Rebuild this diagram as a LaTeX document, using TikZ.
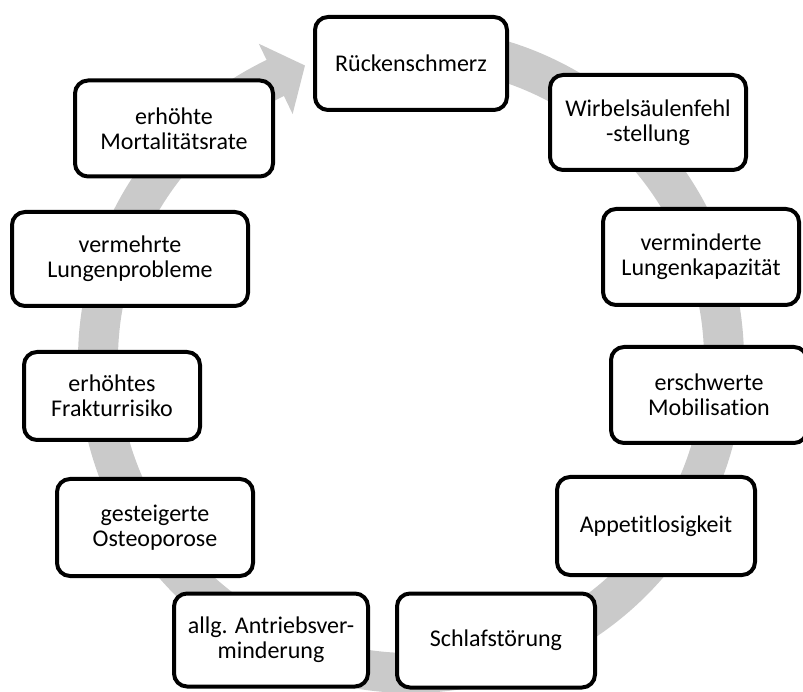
\documentclass[tikz,border=0pt]{standalone}
\usepackage{fontspec}
\setmainfont{Carlito}[Ligatures={NoCommon}]
\begin{document}
\begin{tikzpicture}[x=1pt,y=1pt,
  cbox/.style={draw=black, fill=white, line width=4pt, rounded corners=13pt,
    inner sep=0pt, align=center, font=\fontsize{24}{25}\selectfont},
  bandfill/.style={fill={rgb,255:red,202;green,202;blue,202}}]
\useasboundingbox (0,0) rectangle (803,691);
\clip (0,0) rectangle (803,691);
% circular arrow
\fill[bandfill, shift={(411,331)}]
  (95:333) arc[start angle=95, end angle=-244.3, radius=333]
  -- (-244.3:351) -- (-250.2:313) -- (-244.3:273) -- (-244.3:293)
  arc[start angle=-244.3, end angle=95, radius=293] -- cycle;
% boxes
\node[cbox, minimum width=192pt, minimum height=93pt] (r) at (411,627.5) {Rückenschmerz};
\node[cbox, minimum width=196pt, minimum height=95pt] (w) at (648,568.5) {Wirbelsäulenfehl\\-stellung};
\node[cbox, minimum width=196pt, minimum height=96pt] (lk) at (701,434) {verminderte\\Lungenkapazität};
\node[cbox, minimum width=196pt, minimum height=96pt] (m) at (709,296) {erschwerte\\Mobilisation};
\node[cbox, minimum width=198pt, minimum height=98pt] (a) at (656,165) {Appetitlosigkeit};
\node[cbox, minimum width=198pt, minimum height=94pt] (s) at (496,50.5) {Schlafstörung};
\node[cbox, minimum width=194pt, minimum height=93pt] (an) at (271,51) {allg. Antriebsver-\\minderung};
\node[cbox, minimum width=196pt, minimum height=97pt] (o) at (155,163.5) {gesteigerte\\Osteoporose};
\node[cbox, minimum width=176pt, minimum height=88pt] (f) at (112,295) {erhöhtes\\Frakturrisiko};
\node[cbox, minimum width=236pt, minimum height=94pt] (lp) at (130,432) {vermehrte\\Lungenprobleme};
\node[cbox, minimum width=198pt, minimum height=96pt] (mo) at (174,562.5) {erhöhte\\Mortalitätsrate};
\end{tikzpicture}
\end{document}
